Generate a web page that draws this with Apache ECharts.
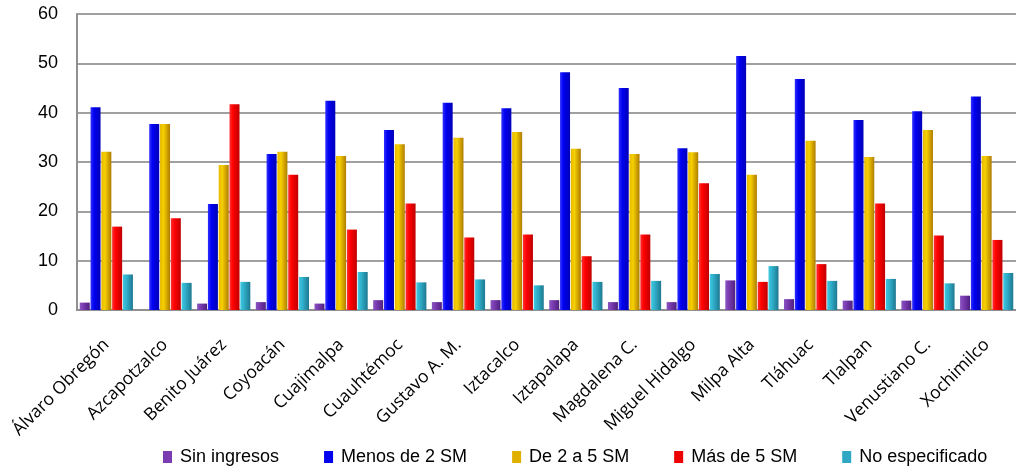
<!DOCTYPE html>
<html>
<head>
<meta charset="utf-8">
<script src="https://cdn.jsdelivr.net/npm/echarts@6/dist/echarts.min.js"></script>
<style>
html,body{margin:0;padding:0;background:#fff;}
#chart{width:1016px;height:466px;}
</style>
</head>
<body>
<div id="chart"></div>
<script>
const categories = ["Álvaro Obregón","Azcapotzalco","Benito Juárez","Coyoacán","Cuajimalpa","Cuauhtémoc","Gustavo A. M.","Iztacalco","Iztapalapa","Magdalena C.","Miguel Hidalgo","Milpa Alta","Tláhuac","Tlalpan","Venustiano C.","Xochimilco"];
const sinIngresos   = [1.5, 0, 1.3, 1.6, 1.3, 2.0, 1.6, 2.0, 2.0, 1.6, 1.6, 6.0, 2.2, 1.9, 1.9, 2.9];
const menosDe2      = [41.1, 37.7, 21.5, 31.6, 42.4, 36.5, 42.0, 40.9, 48.2, 45.0, 32.8, 51.5, 46.8, 38.5, 40.3, 43.3];
const de2a5         = [32.1, 37.7, 29.4, 32.1, 31.2, 33.6, 34.9, 36.1, 32.7, 31.6, 32.0, 27.4, 34.3, 31.0, 36.5, 31.2];
const masDe5        = [16.9, 18.6, 41.7, 27.4, 16.3, 21.6, 14.7, 15.3, 10.9, 15.3, 25.7, 5.7, 9.3, 21.6, 15.1, 14.2];
const noEspecificado= [7.2, 5.5, 5.7, 6.7, 7.7, 5.6, 6.2, 5.0, 5.7, 5.9, 7.3, 8.9, 5.9, 6.3, 5.4, 7.5];
const seriesNames = ["Sin ingresos","Menos de 2 SM","De 2 a 5 SM","Más de 5 SM","No especificado"];
const yTicks = [0,10,20,30,40,50,60];

function grad(c1,c2,c3){
  return new echarts.graphic.LinearGradient(0,0,1,0,[
    {offset:0,color:c1},{offset:0.35,color:c2},{offset:1,color:c3}
  ]);
}
const colors = [
  grad('#8a55c0','#7a3cb0','#4e2080'),
  grad('#3030ff','#0000f0','#0000b8'),
  grad('#e8b800','#f5d000','#b07c00'),
  grad('#ff3030','#ff0000','#c00000'),
  grad('#40c8e0','#30b0cc','#1e7890')
];
const legendColors = ['#7a3cb0','#0000ee','#e0b000','#ee0000','#30a8c4'];
const dataSets = [sinIngresos, menosDe2, de2a5, masDe5, noEspecificado];

const chart = echarts.init(document.getElementById('chart'), null, {renderer:'canvas'});
chart.setOption({
  animation:false,
  backgroundColor:'#ffffff',
  grid:{left:77, right:-5, top:14, bottom:156, containLabel:false},
  legend:{
    left:158, top:443,
    itemWidth:9, itemHeight:12, itemGap:45,
    icon:'rect',
    textStyle:{fontFamily:'Liberation Sans', fontSize:18, color:'#000', padding:[0,0,0,3]},
    data: seriesNames.map((n,i)=>({name:n, itemStyle:{color:legendColors[i]}}))
  },
  xAxis:{
    type:'category',
    data:categories,
    axisLine:{show:true, lineStyle:{color:'#909090', width:2}},
    axisTick:{show:false},
    axisLabel:{rotate:45, interval:0, margin:32, fontFamily:'Open Sans', fontSize:17.5, color:'#000'}
  },
  yAxis:{
    type:'value', min:0, max:60, interval:10,
    axisLine:{show:true, lineStyle:{color:'#909090', width:2}},
    axisTick:{show:false},
    splitLine:{show:true, lineStyle:{color:'#a0a0a0', width:2}},
    axisLabel:{margin:19, fontFamily:'Liberation Sans', fontSize:18, color:'#000',
      formatter:(v)=> yTicks.includes(v) ? String(v) : ''}
  },
  series: seriesNames.map((n,i)=>({
    name:n, type:'bar', data:dataSets[i],
    barWidth:10, barGap:'8%',
    itemStyle:{color:colors[i]}
  }))
});
</script>
</body>
</html>
